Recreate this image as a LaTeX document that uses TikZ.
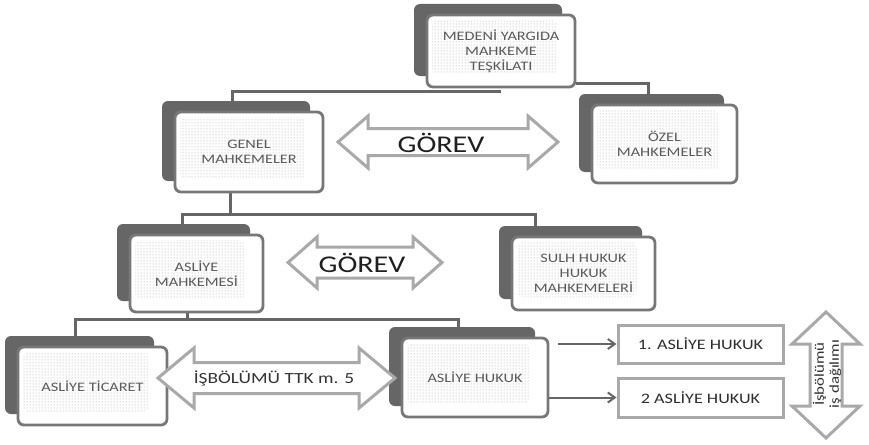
\documentclass[tikz,border=0pt]{standalone}
\usepackage{fontspec}
\setmainfont{Carlito}[FakeStretch=1.25]
\usetikzlibrary{shadows,patterns,arrows.meta,backgrounds}
\definecolor{golge}{HTML}{666666}
\definecolor{cerceve}{HTML}{777777}
\definecolor{acikgri}{HTML}{A9A9A9}
\definecolor{yazi}{HTML}{5A5A5A}
\tikzset{
  mahkeme/.style={draw=cerceve, line width=2.8pt, fill=white, rounded corners=6pt,
    align=center, inner sep=0pt, text=yazi, font=\fontsize{13pt}{15pt}\selectfont,
    general shadow={shadow xshift=-13pt, shadow yshift=11pt, fill=golge},
    path picture={\fill[pattern=dots, pattern color=black!35]
      ([shift={(5pt,-5pt)}]path picture bounding box.north west) rectangle
      ([shift={(-18pt,13pt)}]path picture bounding box.south east);}},
  daire/.style={draw=acikgri, line width=3pt, fill=white, inner sep=0pt,
    minimum width=165pt, text=black!82, font=\fontsize{14.5pt}{16pt}\selectfont},
  baglanti/.style={draw=golge, line width=3pt},
  yonok/.style={draw=golge, line width=2pt, -{Straight Barb[length=7pt,width=10pt]}},
  buyukok/.style={draw=acikgri, line width=3pt, fill=white},
  okyazi/.style={text=black!88, inner sep=0pt}
}
\begin{document}
\begin{tikzpicture}[x=1pt, y=-1pt]
  \useasboundingbox (0,0) rectangle (869,444);

  % mahkemeler
  \node[mahkeme, minimum width=148pt, minimum height=72pt] (teskilat) at (501,51) {MEDENİ YARGIDA\\MAHKEME\\TEŞKİLATI};
  \node[mahkeme, minimum width=148pt, minimum height=80pt] (genel) at (249,152) {GENEL\\MAHKEMELER};
  \node[mahkeme, minimum width=145pt, minimum height=78pt] (ozel) at (664.5,144) {ÖZEL\\MAHKEMELER};
  \node[mahkeme, minimum width=133pt, minimum height=77pt] (asliye) at (196.5,273.5) {ASLİYE\\MAHKEMESİ};
  \node[mahkeme, minimum width=143pt, minimum height=73pt] (sulh) at (583.5,273.5) {SULH HUKUK\\HUKUK\\MAHKEMELERİ};
  \node[mahkeme, minimum width=149pt, minimum height=78pt] (ticaret) at (92.5,386) {ASLİYE TİCARET};
  \node[mahkeme, minimum width=146pt, minimum height=79pt] (hukuk) at (475,377.5) {ASLİYE HUKUK};

  \node[daire, minimum height=38pt] (bir) at (700.5,344) {1. ASLİYE HUKUK};
  \node[daire, minimum height=39pt] (iki) at (700.5,397.5) {2 ASLİYE HUKUK};

  % baglantilar
  \begin{scope}[on background layer]
    \draw[baglanti] ([xshift=-17pt]genel.north) |- ([yshift=-3pt]teskilat.south);
    \draw[baglanti] ([yshift=-32pt]teskilat.east) -| ([xshift=-16pt]ozel.north);
    \draw[baglanti] ([xshift=-19pt]genel.south) -- ++(0,21) -| ([xshift=-14pt]asliye.north);
    \draw[baglanti] ([xshift=-19pt]genel.south) -- ++(0,21) -| ([xshift=-48pt]sulh.north);
    \draw[baglanti] ([xshift=-9pt]asliye.south) -- ++(0,6) -| ([xshift=-17pt]ticaret.north);
    \draw[baglanti] ([xshift=-9pt]asliye.south) -- ++(0,6) -| ([xshift=-17pt]hukuk.north);
  \end{scope}
  \draw[yonok] ([xshift=9pt]hukuk.east |- bir) -- (bir.west);
  \draw[yonok] (hukuk.east |- iki) -- (iki.west);

  % cift yonlu oklar
  \foreach \xa/\xb/\yo/\sh/\hh/\hl in {338/558/142/13.5/26/30, 288/442/262.5/15.5/25.5/29, 158/395/378/15.5/30/36}
    \draw[buyukok] (\xa,\yo) -- ({\xa+\hl},{\yo-\hh}) -- ({\xa+\hl},{\yo-\sh}) -- ({\xb-\hl},{\yo-\sh})
      -- ({\xb-\hl},{\yo-\hh}) -- (\xb,\yo) -- ({\xb-\hl},{\yo+\hh}) -- ({\xb-\hl},{\yo+\sh})
      -- ({\xa+\hl},{\yo+\sh}) -- ({\xa+\hl},{\yo+\hh}) -- cycle;
  \draw[buyukok] (826,312) -- (860,344) -- (842,344) -- (842,406) -- (860,406) -- (826,438)
    -- (792,406) -- (810,406) -- (810,344) -- (792,344) -- cycle;

  \node[okyazi, font=\fontsize{24pt}{26pt}\selectfont] (gorev1) at (441,143) {GÖREV};
  \node[okyazi, font=\fontsize{24pt}{26pt}\selectfont] (gorev2) at (362,263) {GÖREV};
  \node[okyazi, font=\fontsize{15.5pt}{17pt}\selectfont, text=black!80] (isbolumu) at (274,378) {İŞBÖLÜMÜ TTK m. 5};
  \node[okyazi, rotate=90, align=center, font=\fontsize{13.5pt}{15pt}\selectfont, text=black!80] (dagilim) at (827,374) {İşbölümü\\iş dağılımı};
\end{tikzpicture}
\end{document}
